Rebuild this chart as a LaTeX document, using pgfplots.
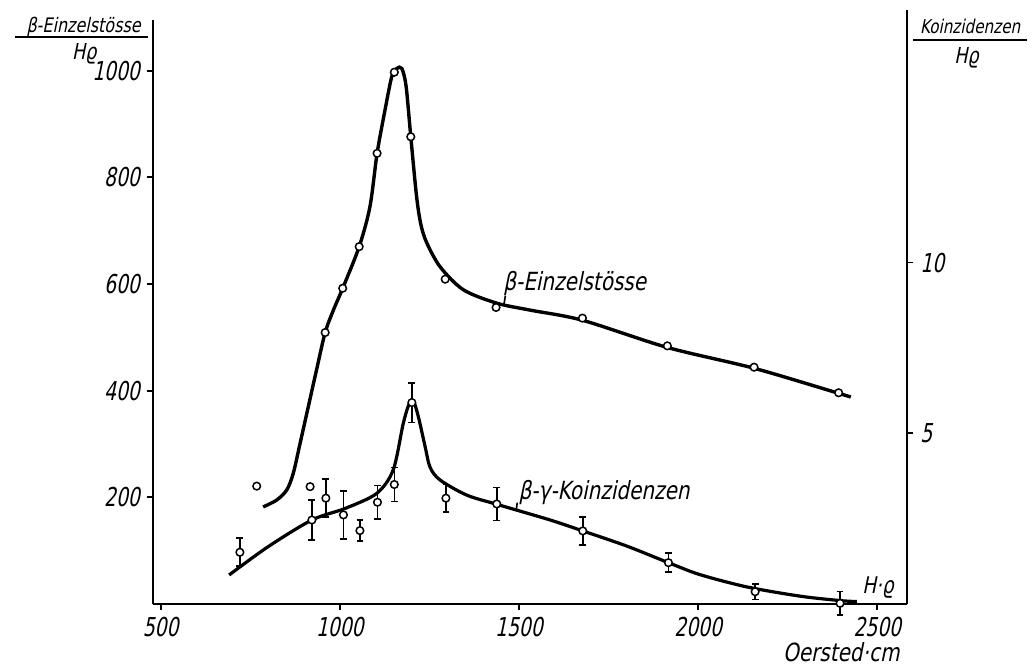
\documentclass[border=0pt]{standalone}
\usepackage{fontspec}
\setmainfont{DejaVu Sans}[FakeStretch=0.72, FakeSlant=0.2]
\newfontfamily\lblfont{DejaVu Sans}[FakeStretch=0.8, FakeSlant=0.2]
\usepackage{pgfplots}
\pgfplotsset{compat=1.18}

\pgfplotsset{
  common/.style={
    scale only axis, width=377.15pt,
    xmin=478.5, xmax=2583.7,
    clip=false,
    tick style={line width=0.9pt, black},
    major tick length=3pt,
    tick align=outside,
    /pgf/number format/assume math mode=true,
    /pgf/number format/1000 sep={},
    ticklabel style={font=\fontsize{13}{13}\selectfont},
  },
  pts/.style={only marks, mark=*, mark size=1.9pt,
    mark options={fill=white, draw=black, line width=0.75pt}},
}

\begin{document}
\begin{tikzpicture}
% left axis: beta single counts
\begin{axis}[common, height=292pt,
  ymin=0, ymax=1095,
  axis x line*=bottom, axis y line*=left,
  axis line style={-, line width=1.1pt},
  xtick={500,1000,1500,2000,2500},
  ytick={200,400,600,800,1000},
]
  \path (rel axis cs:-0.2028,-0.1062) rectangle (rel axis cs:1.1653,1.0342);

  \addplot[line width=1.7pt, smooth, tension=0.5] coordinates {
    (786,182) (824,195) (852,214) (870,245) (889,301) (912,370) (935,439)
    (959,509) (982,551) (1008,592) (1054,670) (1084,745) (1104,845)
    (1126,926) (1145,989) (1159,1004) (1173,1004) (1185,970) (1198,876)
    (1214,765) (1226,712) (1242,678) (1280,632) (1345,589) (1438,564)
    (1531,551) (1677,532) (1914,481) (2156,442) (2392,395) (2426,388)
  };
  \addplot[pts] coordinates {
    (959,509) (1008,592) (1054,670) (1104,845) (1152,997) (1198,876)
    (1294,609) (1436,556) (1677,536) (1914,484) (2156,444) (2392,396)
  };
  \addplot[pts] coordinates {(768,221) (917,220)};

  % axis titles
  \node[font=\fontsize{10}{10}\selectfont\lblfont, anchor=base, inner sep=0]
    at (axis cs:285,1070.6) {β-Einzelstösse};
  \draw[line width=0.8pt] (axis cs:93,1062.6) -- (axis cs:465,1062.6);
  \node[font=\fontsize{11}{11}\selectfont\lblfont, anchor=base, inner sep=0]
    at (axis cs:287,1020) {Hϱ};
  \node[font=\fontsize{9.5}{9.5}\selectfont\lblfont, anchor=base, inner sep=0]
    at (axis cs:2759,1070) {Koinzidenzen};
  \draw[line width=0.8pt] (axis cs:2600,1057.5) -- (axis cs:2918,1057.5);
  \node[font=\fontsize{11}{11}\selectfont\lblfont, anchor=base, inner sep=0]
    at (axis cs:2749,1014) {Hϱ};

  % curve labels
  \node[font=\fontsize{12.5}{12.5}\selectfont\lblfont, anchor=base west, inner sep=0]
    at (axis cs:1455,587) {β-Einzelstösse};
  \draw[line width=0.8pt] (axis cs:1462,578) -- (axis cs:1458,562);
  \node[font=\fontsize{12.5}{12.5}\selectfont\lblfont, anchor=base west, inner sep=0]
    at (axis cs:1498,195) {β-γ-Koinzidenzen};
  \draw[line width=0.8pt] (axis cs:1495,190) -- (axis cs:1492,174);
  \node[font=\fontsize{11.5}{11.5}\selectfont\lblfont, anchor=base west, inner sep=0]
    at (axis cs:2457,20.6) {H·ϱ};
  \node[font=\fontsize{12.5}{12.5}\selectfont\lblfont, anchor=base east, inner sep=0]
    at (axis cs:2563,-108) {Oersted·cm};
\end{axis}

% right axis: coincidences
\begin{axis}[common, height=297pt,
  ymin=0, ymax=17.40,
  axis x line=none, axis y line*=right,
  axis line style={-, line width=1.1pt},
  ytick={5,10},
]
  \addplot[line width=1.6pt, smooth, tension=0.5] coordinates {
    (691,0.85) (800,1.68) (922,2.46) (1015,2.80) (1103,3.24) (1149,3.93)
    (1177,5.29) (1194,5.88) (1205,5.96) (1219,5.49) (1238,4.61) (1252,4.0)
    (1280,3.63) (1354,3.19) (1438,2.92) (1587,2.46) (1678,2.14) (1800,1.70)
    (1917,1.21) (2005,0.86) (2136,0.50) (2284,0.23) (2396,0.10) (2443,0.07)
  };
  \addplot[pts,
    error bars/.cd, y dir=both, y explicit,
    error bar style={line width=0.8pt},
    error mark options={rotate=90, mark size=1.7pt, line width=0.8pt},
  ] coordinates {
    (721,1.515) +- (0,0.41)
    (922,2.46) +- (0,0.59)
    (961,3.10) +- (0,0.56)
    (1010,2.61) +- (0,0.70)
    (1056,2.15) +- (0,0.31)
    (1105,2.98) +- (0,0.49)
    (1152,3.50) +- (0,0.50)
    (1201,5.90) +- (0,0.58)
    (1296,3.10) +- (0,0.40)
    (1438,2.93) +- (0,0.48)
    (1678,2.14) +- (0,0.41)
    (1917,1.21) +- (0,0.28)
    (2159,0.36) +- (0,0.23)
    (2396,0.02) +- (0,0.35)
  };
\end{axis}
\end{tikzpicture}
\end{document}
